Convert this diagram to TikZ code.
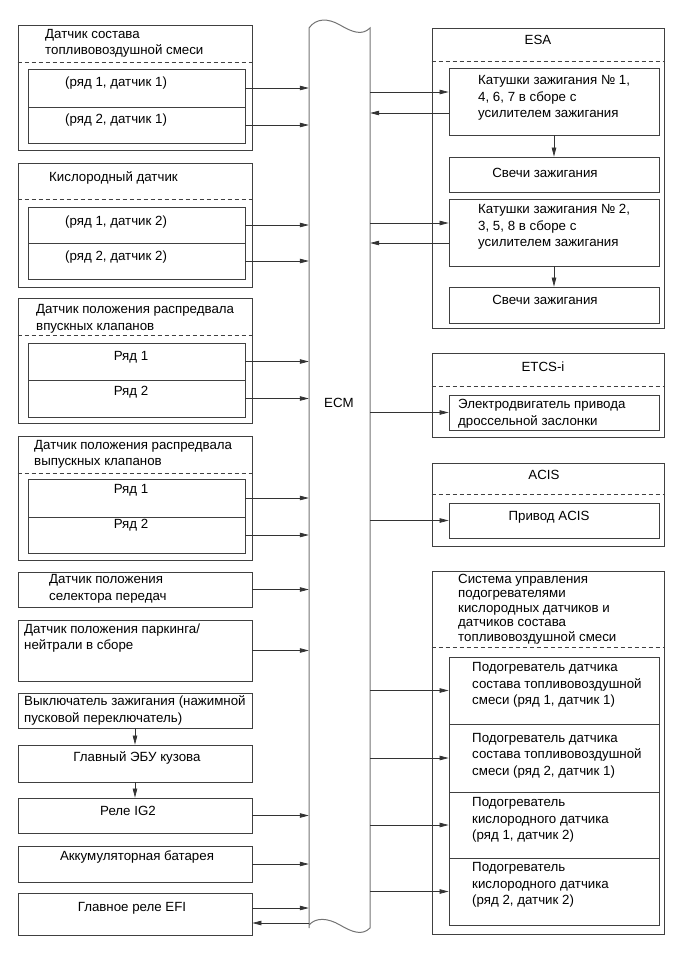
\documentclass[tikz,border=0pt]{standalone}
\usepackage{fontspec}
\setmainfont{Liberation Sans}
\usetikzlibrary{arrows.meta}
\tikzset{
    grp/.style={draw=black!75, line width=0.8pt, inner sep=0pt},
    lgrp/.style={grp, minimum width=234pt},
    lrow/.style={grp, minimum width=217pt},
    rgrp/.style={grp, minimum width=232pt},
    rrow/.style={grp, minimum width=210pt},
    sep/.style={draw=black!75, line width=0.7pt, dash pattern=on 4pt off 3pt},
    txt/.style={inner sep=0pt, align=left, anchor=west},
    ctr/.style={inner sep=0pt},
    arr/.style={draw=black!80, line width=0.7pt, -{Triangle[length=9pt, width=4.5pt]}}
}
\begin{document}
\begin{tikzpicture}[x=1pt, y=-1pt, font=\fontsize{13.3}{16.5}\selectfont]
    \useasboundingbox (0,0) rectangle (687,954);

    % ECM bus
    \node[minimum width=61pt, minimum height=900pt, inner sep=0pt] (ecm) at (339.5, 478) {};
    \draw[draw=black!55, line width=1pt]
        (309,928) -- (309,28)
        .. controls (316,18) and (328,18) .. (340,25)
        .. controls (352,32) and (362,36) .. (370,28)
        -- (370,928)
        .. controls (362,936) and (352,932) .. (340,925)
        .. controls (328,918) and (316,917) .. (309,925);
    \node[ctr] (ecmlbl) at (339, 403) {ECM};

    % ==========================================
    % Left column: sensors
    % ==========================================
    \node[lgrp, minimum height=125pt] (mix) at (135, 87.5) {};
    \draw[sep] ([yshift=-38pt]mix.north west) -- ([yshift=-38pt]mix.north east);
    \node[txt] (tmix) at (45, 43.5) {Датчик состава\\топливовоздушной смеси};
    \node[lrow, minimum height=38pt] (mix1) at (136.5, 88) {};
    \node[lrow, minimum height=36pt] (mix2) at (136.5, 125) {};
    \node[txt] (tmix1) at (65, 83) {(ряд 1, датчик 1)};
    \node[txt] (tmix2) at (65, 120) {(ряд 2, датчик 1)};

    \node[lgrp, minimum height=124pt] (oxy) at (135, 225) {};
    \draw[sep] ([yshift=-37pt]oxy.north west) -- ([yshift=-37pt]oxy.north east);
    \node[txt] (toxy) at (49, 178) {Кислородный датчик};
    \node[lrow, minimum height=36pt] (oxy1) at (136.5, 225) {};
    \node[lrow, minimum height=36pt] (oxy2) at (136.5, 261) {};
    \node[txt] (toxy1) at (65, 222) {(ряд 1, датчик 2)};
    \node[txt] (toxy2) at (65, 257) {(ряд 2, датчик 2)};

    \node[lgrp, minimum height=125pt] (cin) at (135, 360.5) {};
    \draw[sep] ([yshift=-38pt]cin.north west) -- ([yshift=-38pt]cin.north east);
    \node[txt] (tcin) at (36, 319) {Датчик положения распредвала\\впускных клапанов};
    \node[lrow, minimum height=37pt] (cin1) at (136.5, 361.5) {};
    \node[lrow, minimum height=37pt] (cin2) at (136.5, 398.5) {};
    \node[ctr] (tcin1) at (131, 357) {Ряд 1};
    \node[ctr] (tcin2) at (131, 392) {Ряд 2};

    \node[lgrp, minimum height=124pt] (cex) at (135, 498) {};
    \draw[sep] ([yshift=-38pt]cex.north west) -- ([yshift=-38pt]cex.north east);
    \node[txt] (tcex) at (34, 454.5) {Датчик положения распредвала\\выпускных клапанов};
    \node[lrow, minimum height=38pt] (cex1) at (136.5, 498) {};
    \node[lrow, minimum height=36pt] (cex2) at (136.5, 535) {};
    \node[ctr] (tcex1) at (131, 490) {Ряд 1};
    \node[ctr] (tcex2) at (131, 525) {Ряд 2};

    \node[lgrp, minimum height=35pt] (sel) at (135, 589.5) {};
    \node[txt] (tsel) at (49, 589) {Датчик положения\\селектора передач};
    \node[lgrp, minimum height=61pt] (pn) at (135, 650.5) {};
    \node[txt] (tpn) at (24, 638) {Датчик положения паркинга/\\нейтрали в сборе};
    \node[lgrp, minimum height=35pt] (ign) at (135, 710.5) {};
    \node[txt] (tign) at (24, 710.5) {Выключатель зажигания (нажимной\\пусковой переключатель)};
    \node[lgrp, minimum height=37pt] (bcu) at (135, 763.5) {};
    \node[ctr] (tbcu) at (137, 758) {Главный ЭБУ кузова};
    \node[lgrp, minimum height=35pt] (ig2) at (135, 815.5) {};
    \node[ctr] (tig2) at (128, 811) {Реле IG2};
    \node[lgrp, minimum height=36pt] (bat) at (135, 864) {};
    \node[ctr] (tbat) at (137, 857) {Аккумуляторная батарея};
    \node[lgrp, minimum height=42pt] (efi) at (135, 914) {};
    \node[ctr] (tefi) at (132, 908) {Главное реле EFI};

    % inputs to ECM
    \foreach \src in {mix1, mix2, oxy1, oxy2, cin1, cin2, cex1, cex2, sel, pn, ig2, bat}
        \draw[arr] (\src.east) -- (\src.east -| ecm.west);
    \draw[arr] ([yshift=6pt]efi.east) -- ([yshift=6pt]efi.east -| ecm.west);
    \draw[arr] ([yshift=-9pt]efi.east -| ecm.west) -- ([yshift=-9pt]efi.east);
    \draw[arr] (ign) -- (bcu);
    \draw[arr] (bcu) -- (ig2);

    % ==========================================
    % Right column: actuators
    % ==========================================
    \node[rgrp, minimum height=300pt] (esa) at (548, 178) {};
    \draw[sep] ([yshift=-34pt]esa.north west) -- ([yshift=-34pt]esa.north east);
    \node[ctr] (tesa) at (538, 40) {ESA};
    \node[rrow, minimum height=67pt] (coil1) at (554, 101.5) {};
    \node[txt] (tcoil1) at (478, 98) {Катушки зажигания № 1,\\4, 6, 7 в сборе с\\усилителем зажигания};
    \node[rrow, minimum height=35pt] (plug1) at (554, 174.5) {};
    \node[ctr] (tplug1) at (545, 173) {Свечи зажигания};
    \node[rrow, minimum height=67pt] (coil2) at (554, 232.5) {};
    \node[txt] (tcoil2) at (478, 227) {Катушки зажигания № 2,\\3, 5, 8 в сборе с\\усилителем зажигания};
    \node[rrow, minimum height=36pt] (plug2) at (554, 305) {};
    \node[ctr] (tplug2) at (545, 300) {Свечи зажигания};

    \node[rgrp, minimum height=84pt] (etcs) at (548, 395) {};
    \draw[sep] ([yshift=-34pt]etcs.north west) -- ([yshift=-34pt]etcs.north east);
    \node[ctr] (tetcs) at (543, 367) {ETCS-i};
    \node[rrow, minimum height=35pt] (thr) at (554, 412.5) {};
    \node[txt] (tthr) at (458, 413.5) {Электродвигатель привода\\дроссельной заслонки};

    \node[rgrp, minimum height=83pt] (acis) at (548, 504.5) {};
    \draw[sep] ([yshift=-32pt]acis.north west) -- ([yshift=-32pt]acis.north east);
    \node[ctr] (tacis) at (544, 475) {ACIS};
    \node[rrow, minimum height=35pt] (vsv) at (554, 520.5) {};
    \node[ctr] (tvsv) at (549, 517) {Привод ACIS};

    \node[rgrp, minimum height=363pt] (htr) at (548, 752.5) {};
    \draw[sep] ([yshift=-77pt]htr.north west) -- ([yshift=-77pt]htr.north east);
    \node[txt, font=\fontsize{13.3}{14.5}\selectfont] (thtr) at (458, 609) {Система управления\\подогревателями\\кислородных датчиков и\\датчиков состава\\топливовоздушной смеси};
    \node[rrow, minimum height=67pt] (h1) at (554, 690.5) {};
    \node[rrow, minimum height=68pt] (h2) at (554, 758) {};
    \node[rrow, minimum height=66pt] (h3) at (554, 825) {};
    \node[rrow, minimum height=67pt] (h4) at (554, 891.5) {};
    \node[txt] (th1) at (472, 685) {Подогреватель датчика\\состава топливовоздушной\\смеси (ряд 1, датчик 1)};
    \node[txt] (th2) at (472, 755.5) {Подогреватель датчика\\состава топливовоздушной\\смеси (ряд 2, датчик 1)};
    \node[txt] (th3) at (472, 820) {Подогреватель\\кислородного датчика\\(ряд 1, датчик 2)};
    \node[txt] (th4) at (472, 885) {Подогреватель\\кислородного датчика\\(ряд 2, датчик 2)};

    % outputs from ECM
    \draw[arr] ([yshift=9.5pt]coil1.west -| ecm.east) -- ([yshift=9.5pt]coil1.west);
    \draw[arr] ([yshift=-11.5pt]coil1.west) -- ([yshift=-11.5pt]coil1.west -| ecm.east);
    \draw[arr] ([yshift=9.5pt]coil2.west -| ecm.east) -- ([yshift=9.5pt]coil2.west);
    \draw[arr] ([yshift=-10.5pt]coil2.west) -- ([yshift=-10.5pt]coil2.west -| ecm.east);
    \draw[arr] (coil1) -- (plug1);
    \draw[arr] (coil2) -- (plug2);
    \foreach \dst in {thr, vsv, h1, h2, h3, h4}
        \draw[arr] (\dst.west -| ecm.east) -- (\dst.west);

\end{tikzpicture}
\end{document}
